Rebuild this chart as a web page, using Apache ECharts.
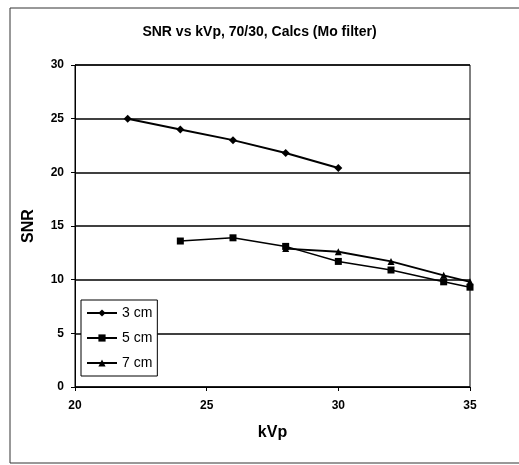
<!DOCTYPE html>
<html>
<head>
<meta charset="utf-8">
<script src="https://cdn.jsdelivr.net/npm/echarts@6/dist/echarts.min.js"></script>
<style>html,body{margin:0;padding:0;background:#fff;}#c{width:519px;height:465px;}</style>
</head>
<body>
<div id="c"></div>
<script>
var kvp3 = [22, 24, 26, 28, 30];
var snr3 = [25.0, 24.0, 23.0, 21.8, 20.4];
var kvp5 = [24, 26, 28, 30, 32, 34, 35];
var snr5 = [13.6, 13.9, 13.1, 11.7, 10.9, 9.8, 9.3];
var kvp7 = [28, 30, 32, 34, 35];
var snr7 = [12.9, 12.6, 11.7, 10.4, 9.8];
var seriesNames = ['3 cm', '5 cm', '7 cm'];

function pairs(xs, ys) { return xs.map(function (x, i) { return [x, ys[i]]; }); }

var chart = echarts.init(document.getElementById('c'));
var font = 'Liberation Sans, Arial, sans-serif';
chart.setOption({
  backgroundColor: '#fff',
  animation: false,
  title: {
    text: 'SNR vs kVp, 70/30, Calcs (Mo filter)',
    left: 'center', top: 20,
    textStyle: { fontFamily: font, fontWeight: 'bold', fontSize: 14, color: '#000' }
  },
  graphic: [{
    type: 'rect', shape: { x: 10, y: 8, width: 520, height: 455 },
    style: { fill: 'none', stroke: '#333', lineWidth: 1 }, silent: true
  }],
  grid: { left: 75, right: 49, top: 65, bottom: 78, show: true, borderColor: '#000', borderWidth: 1 },
  legend: {
    orient: 'vertical', left: 81, top: 300,
    backgroundColor: '#fff', borderColor: '#000', borderWidth: 1,
    padding: [6, 5, 6, 5], itemGap: 11, itemWidth: 30, itemHeight: 9,
    textStyle: { fontFamily: font, fontSize: 14, color: '#000' },
    data: seriesNames
  },
  xAxis: {
    type: 'value', min: 20, max: 35, interval: 5,
    name: 'kVp', nameLocation: 'middle', nameGap: 38,
    nameTextStyle: { fontFamily: font, fontWeight: 'bold', fontSize: 16, color: '#000' },
    axisLine: { lineStyle: { color: '#000' } },
    axisTick: { show: true, length: 4, lineStyle: { color: '#000' } },
    axisLabel: { fontFamily: font, fontWeight: 'bold', fontSize: 12, color: '#000', margin: 13 },
    splitLine: { show: false }
  },
  yAxis: {
    type: 'value', min: 0, max: 30, interval: 5,
    name: 'SNR', nameLocation: 'middle', nameGap: 38, nameRotate: 90,
    nameTextStyle: { fontFamily: font, fontWeight: 'bold', fontSize: 16, color: '#000' },
    axisLine: { show: true, lineStyle: { color: '#000' } },
    axisTick: { show: true, length: 4, lineStyle: { color: '#000' } },
    axisLabel: { fontFamily: font, fontWeight: 'bold', fontSize: 12, color: '#000', margin: 11 },
    splitLine: { show: true, lineStyle: { color: '#000', width: 1.5 } }
  },
  series: [
    { name: seriesNames[0], type: 'line', data: pairs(kvp3, snr3),
      symbol: 'diamond', symbolSize: 8, lineStyle: { color: '#000', width: 2 },
      itemStyle: { color: '#000' } },
    { name: seriesNames[1], type: 'line', data: pairs(kvp5, snr5),
      symbol: 'rect', symbolSize: 7, lineStyle: { color: '#000', width: 1.5 },
      itemStyle: { color: '#000' } },
    { name: seriesNames[2], type: 'line', data: pairs(kvp7, snr7),
      symbol: 'triangle', symbolSize: 7, lineStyle: { color: '#000', width: 1.8 },
      itemStyle: { color: '#000' } }
  ]
});
</script>
</body>
</html>
